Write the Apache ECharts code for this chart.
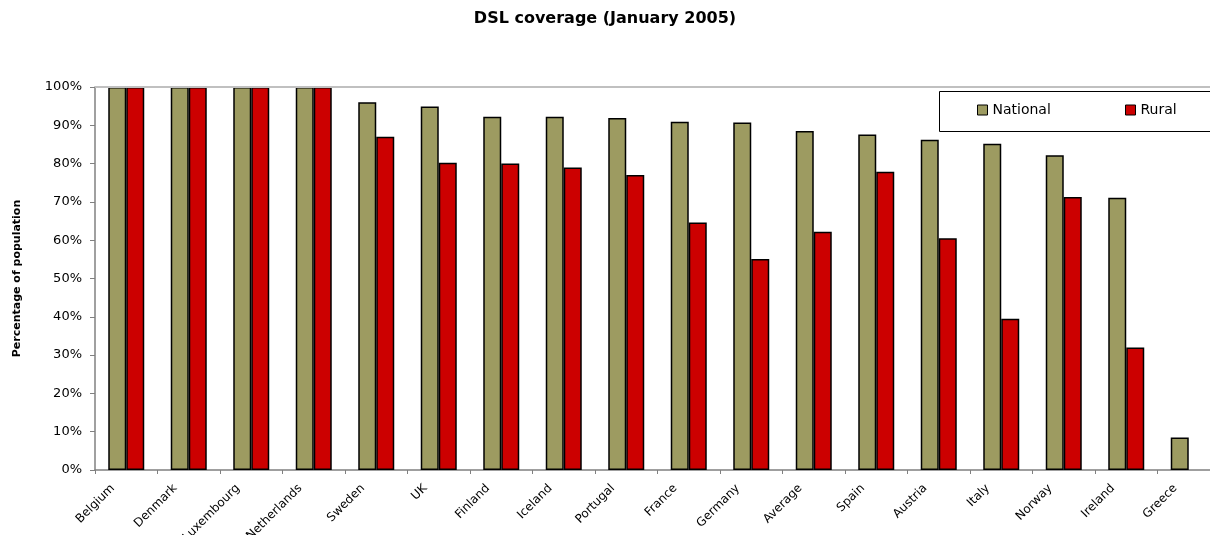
<!DOCTYPE html>
<html>
<head>
<meta charset="utf-8">
<title>DSL coverage (January 2005)</title>
<script src="https://cdn.jsdelivr.net/npm/echarts@6/dist/echarts.min.js"></script>
<style>
  html, body { margin: 0; padding: 0; background: #ffffff; }
  #chart { width: 1210px; height: 535px; }
</style>
</head>
<body>
<div id="chart"></div>
<script>
// DSL coverage by country, January 2005 (percentage of population)
const countries = ['Belgium', 'Denmark', 'Luxembourg', 'Netherlands', 'Sweden', 'UK', 'Finland',
  'Iceland', 'Portugal', 'France', 'Germany', 'Average', 'Spain', 'Austria', 'Italy', 'Norway',
  'Ireland', 'Greece'];
const national = [100, 100, 100, 100, 96.0, 94.9, 92.2, 92.2, 91.9, 90.9, 90.7, 88.5, 87.6, 86.2,
  85.2, 82.2, 71.1, 8.5];
const rural = [100, 100, 100, 100, 87.0, 80.2, 80.0, 79.0, 77.0, 64.6, 55.1, 62.2, 77.9, 60.5,
  39.5, 71.3, 32.0, null];
const yTicks = { min: 0, max: 100, step: 10 };

const FONT = '"DejaVu Sans", "Liberation Sans", Arial, sans-serif';
const AXIS_GREY = '#808080';

const legendText = { fontFamily: FONT, fontSize: 14, color: '#000000' };
function legendFor(name, left) {
  return {
    data: [name],
    left: left,
    top: 103,
    padding: 0,
    z: 10,
    itemWidth: 10,
    itemHeight: 10,
    itemGap: 4,
    icon: 'rect',
    itemStyle: { borderColor: '#000000', borderWidth: 1 },
    textStyle: legendText
  };
}

const chart = echarts.init(document.getElementById('chart'), null, { renderer: 'canvas' });

chart.setOption({
  animation: false,
  backgroundColor: '#ffffff',
  title: {
    text: 'DSL coverage (January 2005)',
    left: 'center',
    top: 11,
    padding: 0,
    textStyle: { fontFamily: FONT, fontSize: 16, fontWeight: 'bold', color: '#000000' }
  },
  // framed legend box running past the right edge
  graphic: [{
    type: 'rect',
    left: 939,
    top: 91,
    shape: { width: 320, height: 40 },
    style: { fill: '#ffffff', stroke: '#000000', lineWidth: 1 },
    z: 3
  }],
  legend: [legendFor('National', 977), legendFor('Rural', 1125)],
  grid: {
    left: 95,
    top: 87,
    bottom: 65,
    width: 1125,
    containLabel: false,
    outerBoundsMode: 'none'
  },
  xAxis: {
    type: 'category',
    data: countries,
    axisLine: { show: true, lineStyle: { color: AXIS_GREY, width: 1.5 } },
    axisTick: { show: true, alignWithLabel: false, length: 4, lineStyle: { color: AXIS_GREY } },
    axisLabel: {
      interval: 0,
      rotate: 45,
      margin: 3,
      padding: [0, 19, 12, 0],
      fontFamily: FONT,
      fontSize: 12,
      color: '#000000'
    },
    splitLine: { show: false }
  },
  yAxis: {
    type: 'value',
    min: yTicks.min,
    max: yTicks.max,
    interval: yTicks.step,
    name: 'Percentage of population',
    nameLocation: 'middle',
    nameRotate: 90,
    nameGap: 72,
    nameTextStyle: { fontFamily: FONT, fontSize: 11, fontWeight: 'bold', color: '#000000' },
    axisLine: { show: true, lineStyle: { color: AXIS_GREY, width: 1.5 } },
    axisTick: { show: true, inside: false, length: 5, lineStyle: { color: AXIS_GREY } },
    axisLabel: {
      formatter: '{value}%',
      margin: 13,
      fontFamily: FONT,
      fontSize: 13,
      color: '#000000'
    },
    splitLine: { show: false }
  },
  series: [
    {
      name: 'National',
      type: 'bar',
      data: national,
      barWidth: 18,
      barGap: '0%',
      itemStyle: { color: '#9d9b61', borderColor: '#000000', borderWidth: 1.5 },
      markLine: {
        silent: true,
        symbol: 'none',
        label: { show: false },
        lineStyle: { color: '#c0c0c0', type: 'solid', width: 2 },
        data: [{ yAxis: yTicks.max }]
      }
    },
    {
      name: 'Rural',
      type: 'bar',
      data: rural,
      barWidth: 18,
      barGap: '0%',
      itemStyle: { color: '#cc0000', borderColor: '#000000', borderWidth: 1.5 }
    }
  ]
});
</script>
</body>
</html>
